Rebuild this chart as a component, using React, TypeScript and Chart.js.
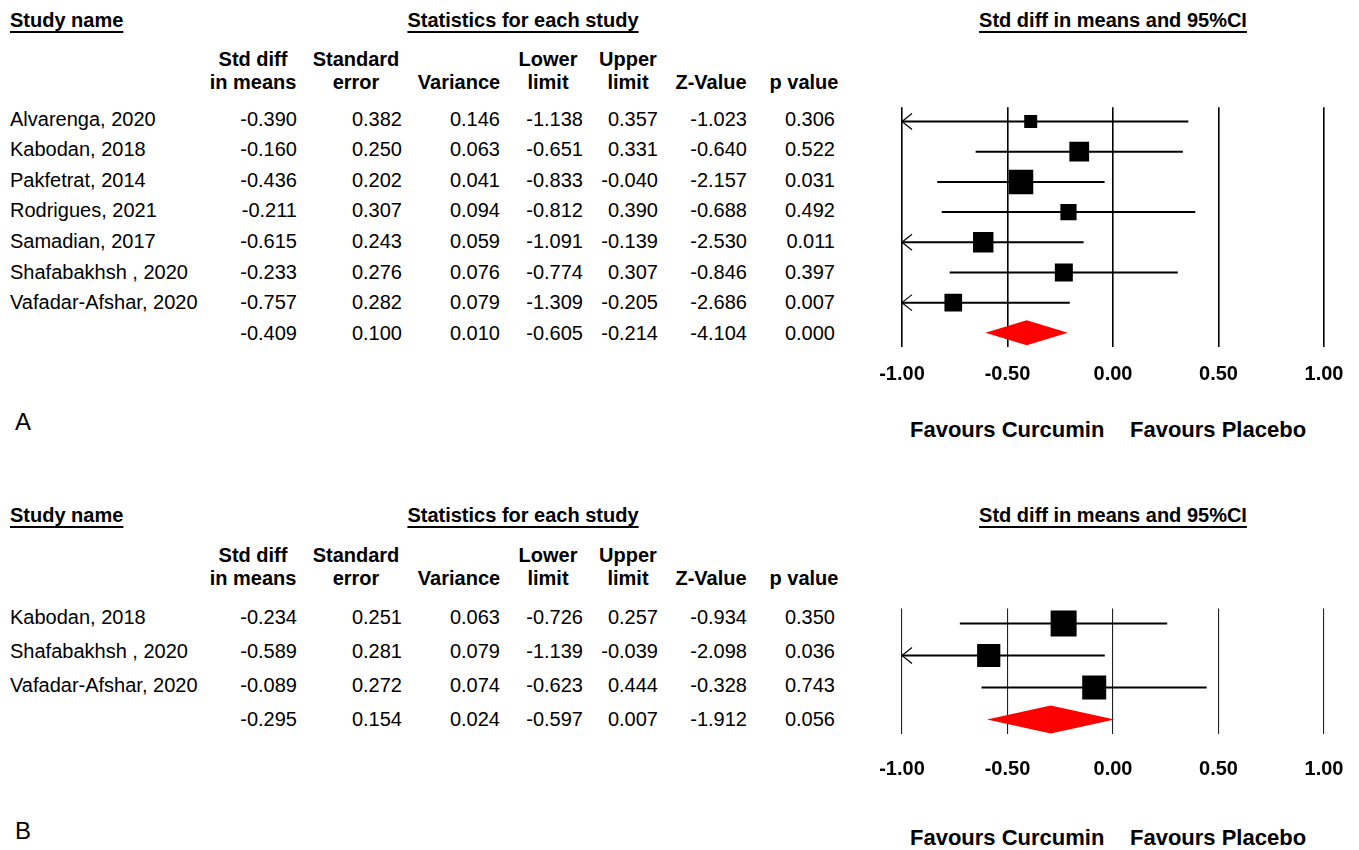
import React, { useEffect, useRef } from "react";
import { Chart, registerables } from "chart.js";

Chart.register(...registerables);

const FONT = '"Liberation Sans", Arial, Helvetica, sans-serif';

// ---------- Panel A data (last entry = pooled estimate) ----------
const studiesA = [
  "Alvarenga, 2020",
  "Kabodan, 2018",
  "Pakfetrat, 2014",
  "Rodrigues, 2021",
  "Samadian, 2017",
  "Shafabakhsh , 2020",
  "Vafadar-Afshar, 2020",
  "",
];
const stdDiffA = [-0.39, -0.16, -0.436, -0.211, -0.615, -0.233, -0.757, -0.409];
const stdErrA = [0.382, 0.25, 0.202, 0.307, 0.243, 0.276, 0.282, 0.1];
const varianceA = [0.146, 0.063, 0.041, 0.094, 0.059, 0.076, 0.079, 0.01];
const lowerA = [-1.138, -0.651, -0.833, -0.812, -1.091, -0.774, -1.309, -0.605];
const upperA = [0.357, 0.331, -0.04, 0.39, -0.139, 0.307, -0.205, -0.214];
const zValueA = [-1.023, -0.64, -2.157, -0.688, -2.53, -0.846, -2.686, -4.104];
const pValueA = [0.306, 0.522, 0.031, 0.492, 0.011, 0.397, 0.007, 0.0];

// ---------- Panel B data (last entry = pooled estimate) ----------
const studiesB = ["Kabodan, 2018", "Shafabakhsh , 2020", "Vafadar-Afshar, 2020", ""];
const stdDiffB = [-0.234, -0.589, -0.089, -0.295];
const stdErrB = [0.251, 0.281, 0.272, 0.154];
const varianceB = [0.063, 0.079, 0.074, 0.024];
const lowerB = [-0.726, -1.139, -0.623, -0.597];
const upperB = [0.257, -0.039, 0.444, 0.007];
const zValueB = [-0.934, -2.098, -0.328, -1.912];
const pValueB = [0.35, 0.036, 0.743, 0.056];

// ---------- Axis ----------
const axisTicks = [-1.0, -0.5, 0.0, 0.5, 1.0];
const axisMin = -1;
const axisMax = 1;

// ---------- Table headers ----------
const headerLines = [
  ["Std diff", "in means"],
  ["Standard", "error"],
  ["", "Variance"],
  ["Lower", "limit"],
  ["Upper", "limit"],
  ["", "Z-Value"],
  ["", "p value"],
];
const favoursLeft = "Favours Curcumin";
const favoursRight = "Favours Placebo";

// layout constants
const colRight = [297, 402, 500, 583, 658, 747, 835];
const colCenter = [253, 356, 459, 548, 628, 711, 804];

type TxtProps = {
  x: number;
  y: number;
  align?: "left" | "right" | "center";
  bold?: boolean;
  size?: number;
  underline?: boolean;
  children: React.ReactNode;
};

function Txt({ x, y, align = "left", bold = false, size = 20, underline = false, children }: TxtProps) {
  const tx = align === "left" ? "0" : align === "right" ? "-100%" : "-50%";
  return (
    <div
      style={{
        position: "absolute",
        left: x,
        top: y,
        transform: `translate(${tx}, -50%)`,
        fontFamily: FONT,
        fontSize: size,
        fontWeight: bold ? 700 : 400,
        lineHeight: 1,
        whiteSpace: "nowrap",
        color: "#000",
        textDecoration: underline ? "underline" : "none",
        textUnderlineOffset: "4px",
        textDecorationThickness: "1.5px",
        textDecorationSkipInk: "none" as any,
      }}
    >
      {children}
    </div>
  );
}

type ForestProps = {
  est: number[];
  lo: number[];
  hi: number[];
  variance: number[];
  left: number;
  top: number;
  width: number;
  height: number;
  padLeft: number;
  padRight: number;
  padTop: number;
  axisHeight: number;
  tickLineHeight: number;
  yMin: number;
  yMax: number;
  gridWidth: number;
  gridColor: string;
  maxSide: number;
  diamondHalf: number;
};

function Forest(p: ForestProps) {
  const ref = useRef<HTMLCanvasElement | null>(null);
  useEffect(() => {
    const canvas = ref.current;
    if (!canvas) return;
    const n = p.est.length - 1; // studies; last is pooled
    const weights = p.variance.slice(0, n).map((v) => 1 / v);
    const wMax = Math.max(...weights);
    const radii = weights.map((w) => (p.maxSide * Math.sqrt(w / wMax)) / Math.SQRT2);

    const ciSets = p.est.slice(0, n).map((_, i) => ({
      type: "line" as const,
      data: [
        { x: Math.max(p.lo[i], axisMin), y: i },
        { x: Math.min(p.hi[i], axisMax), y: i },
      ],
      borderColor: "#000",
      borderWidth: 2,
      pointRadius: 0,
      showLine: true,
      fill: false,
      order: 2,
    }));

    const squares = {
      type: "scatter" as const,
      data: p.est.slice(0, n).map((e, i) => ({ x: e, y: i })),
      pointStyle: "rect",
      pointRadius: radii,
      pointHoverRadius: radii,
      backgroundColor: "#000",
      borderWidth: 0,
      order: 1,
    };

    const forestPlugin = {
      id: "forestExtras",
      afterDatasetsDraw(chart: any) {
        const { ctx } = chart;
        const xs = chart.scales.x;
        const ys = chart.scales.y;
        ctx.save();
        // arrows for truncated CIs
        ctx.strokeStyle = "#000";
        ctx.lineWidth = 1.2;
        for (let i = 0; i < n; i++) {
          const py = ys.getPixelForValue(i);
          if (p.lo[i] < axisMin) {
            const px = xs.getPixelForValue(axisMin);
            ctx.beginPath();
            ctx.moveTo(px + 10, py - 8);
            ctx.lineTo(px, py);
            ctx.lineTo(px + 10, py + 8);
            ctx.stroke();
          }
          if (p.hi[i] > axisMax) {
            const px = xs.getPixelForValue(axisMax);
            ctx.beginPath();
            ctx.moveTo(px - 10, py - 8);
            ctx.lineTo(px, py);
            ctx.lineTo(px - 10, py + 8);
            ctx.stroke();
          }
        }
        // pooled diamond
        const py = ys.getPixelForValue(n);
        const xl = xs.getPixelForValue(p.lo[n]);
        const xm = xs.getPixelForValue(p.est[n]);
        const xr = xs.getPixelForValue(p.hi[n]);
        ctx.fillStyle = "#ff0000";
        ctx.beginPath();
        ctx.moveTo(xl, py);
        ctx.lineTo(xm, py - p.diamondHalf);
        ctx.lineTo(xr, py);
        ctx.lineTo(xm, py + p.diamondHalf);
        ctx.closePath();
        ctx.fill();
        ctx.restore();
      },
    };

    const chart = new Chart(canvas, {
      type: "scatter",
      data: { datasets: [...ciSets, squares] as any },
      options: {
        animation: false,
        responsive: false,
        events: [],
        layout: { padding: { left: p.padLeft, right: p.padRight, top: p.padTop, bottom: 0 } },
        plugins: { legend: { display: false }, tooltip: { enabled: false } },
        scales: {
          x: {
            type: "linear",
            min: axisMin,
            max: axisMax,
            afterBuildTicks: (s: any) => {
              s.ticks = axisTicks.map((v) => ({ value: v }));
            },
            afterFit: (s: any) => {
              s.height = p.axisHeight;
            },
            grid: { color: p.gridColor, lineWidth: p.gridWidth, drawTicks: false },
            border: { display: false },
            ticks: {
              padding: 4,
              autoSkip: false,
              maxRotation: 0,
              color: "#000",
              font: { family: FONT, size: 20, weight: "bold", lineHeight: p.tickLineHeight },
              callback: (v: any) => Number(v).toFixed(2),
            },
          },
          y: { type: "linear", min: p.yMin, max: p.yMax, reverse: true, display: false },
        },
      } as any,
      plugins: [forestPlugin],
    });
    return () => chart.destroy();
  }, []);
  return (
    <canvas
      ref={ref}
      width={p.width}
      height={p.height}
      style={{ position: "absolute", left: p.left, top: p.top, width: p.width, height: p.height }}
    />
  );
}

type PanelProps = {
  studies: string[];
  cols: number[][];
  label: string;
  labelY: number;
  titleY: number;
  head1Y: number;
  head2Y: number;
  rowY0: number;
  rowStep: number;
  favoursY: number;
};

function Table(p: PanelProps) {
  const items: React.ReactNode[] = [];
  items.push(
    <Txt key="sn" x={10} y={p.titleY} bold underline>
      Study name
    </Txt>,
    <Txt key="st" x={523} y={p.titleY} bold underline align="center">
      Statistics for each study
    </Txt>,
    <Txt key="sd" x={1113} y={p.titleY} bold underline align="center">
      Std diff in means and 95%CI
    </Txt>
  );
  headerLines.forEach((h, c) => {
    if (h[0])
      items.push(
        <Txt key={`h1${c}`} x={colCenter[c]} y={p.head1Y} bold align="center">
          {h[0]}
        </Txt>
      );
    items.push(
      <Txt key={`h2${c}`} x={colCenter[c]} y={p.head2Y} bold align="center">
        {h[1]}
      </Txt>
    );
  });
  p.studies.forEach((s, i) => {
    const y = p.rowY0 + i * p.rowStep;
    if (s)
      items.push(
        <Txt key={`s${i}`} x={10} y={y}>
          {s}
        </Txt>
      );
    p.cols.forEach((col, c) => {
      items.push(
        <Txt key={`v${i}_${c}`} x={colRight[c]} y={y} align="right">
          {col[i].toFixed(3)}
        </Txt>
      );
    });
  });
  items.push(
    <Txt key="lab" x={15} y={p.labelY} size={24}>
      {p.label}
    </Txt>,
    <Txt key="fl" x={910} y={p.favoursY} size={22} bold>
      {favoursLeft}
    </Txt>,
    <Txt key="fr" x={1130} y={p.favoursY} size={22} bold>
      {favoursRight}
    </Txt>
  );
  return <>{items}</>;
}

export default function App() {
  return (
    <div
      style={{
        position: "absolute",
        left: 0,
        top: 0,
        width: 1359,
        height: 850,
        overflow: "hidden",
        background: "#fff",
      }}
    >
      <Table
        studies={studiesA}
        cols={[stdDiffA, stdErrA, varianceA, lowerA, upperA, zValueA, pValueA]}
        label="A"
        labelY={422}
        titleY={20}
        head1Y={59}
        head2Y={82}
        rowY0={118.7}
        rowStep={30.57}
        favoursY={430}
      />
      <Forest
        est={stdDiffA}
        lo={lowerA}
        hi={upperA}
        variance={varianceA}
        left={860}
        top={90}
        width={499}
        height={300}
        padLeft={42}
        padRight={35}
        padTop={14.3}
        axisHeight={43.3}
        tickLineHeight={2.4}
        yMin={-0.47}
        yMax={7.46}
        gridWidth={1.6}
        gridColor="#000"
        maxSide={24.5}
        diamondHalf={12.5}
      />
      <Table
        studies={studiesB}
        cols={[stdDiffB, stdErrB, varianceB, lowerB, upperB, zValueB, pValueB]}
        label="B"
        labelY={831}
        titleY={515}
        head1Y={555}
        head2Y={578}
        rowY0={617}
        rowStep={34}
        favoursY={838}
      />
      <Forest
        est={stdDiffB}
        lo={lowerB}
        hi={upperB}
        variance={varianceB}
        left={860}
        top={590}
        width={499}
        height={200}
        padLeft={42}
        padRight={35}
        padTop={10.7}
        axisHeight={56}
        tickLineHeight={3.1}
        yMin={-0.47}
        yMax={3.45}
        gridWidth={1.1}
        gridColor="#222"
        maxSide={26}
        diamondHalf={14}
      />
    </div>
  );
}
